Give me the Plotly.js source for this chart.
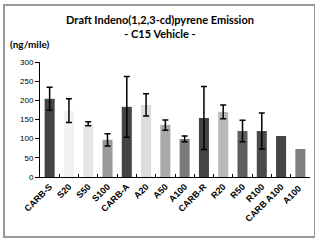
<!DOCTYPE html>
<html>
<head>
<meta charset="utf-8">
<script src="https://cdn.plot.ly/plotly-3.0.1.min.js"></script>
<style>
html,body{margin:0;padding:0;background:#fff;}
#wrap{position:relative;width:315px;height:240px;}
#chart{width:315px;height:240px;}
#frame{position:absolute;left:3px;top:4px;width:313px;height:234px;border:2px solid #999;box-sizing:border-box;pointer-events:none;}
</style>
</head>
<body>
<div id="wrap"><div id="chart"></div><div id="frame"></div></div>
<script>
const categories = ["CARB-S","S20","S50","S100","CARB-A","A20","A50","A100","CARB-R","R20","R50","R100","CARB A100","A100 "];
const values = [204, 173, 139, 97, 183, 188, 136, 99, 154, 170, 120, 120, 107, 73];
const errPlus = [30, 31, 5, 16, 79, 29, 13, 8, 82, 18, 28, 47, NaN, NaN];
const errMinus = [30, 31, 5, 16, 79, 29, 14, 7, 82, 18, 28, 47, NaN, NaN];
const barColors = ["#444444","#f2f2f2","#e6e6e6","#999999","#444444","#dcdcdc","#aaaaaa","#7a7a7a","#444444","#b8b8b8","#5f5f5f","#4a4a4a","#444444","#808080"];
const yTicks = [0, 50, 100, 150, 200, 250, 300];

const trace = {
  type: "bar",
  x: categories,
  y: values,
  marker: {color: barColors, line: {width: 0}},
  error_y: {type: "data", symmetric: false, array: errPlus, arrayminus: errMinus, color: "#000", thickness: 1.5, width: 3},
  hoverinfo: "none"
};

const layout = {
  width: 315, height: 240,
  margin: {l: 40, r: 5, t: 62, b: 63, pad: 0},
  paper_bgcolor: "#fff", plot_bgcolor: "#fff",
  showlegend: false,
  bargap: 0.48,
  title: {
    text: "Draft Indeno(1,2,3-cd)pyrene Emission<br>- C15 Vehicle -",
    font: {family: "Lato, 'Liberation Sans', sans-serif", size: 11, color: "#000", weight: "bold"},
    x: 0.508, xref: "container", xanchor: "center",
    y: 0.9, yref: "container", yanchor: "middle"
  },
  xaxis: {
    type: "category",
    tickson: "boundaries",
    ticks: "inside", ticklen: 3, tickwidth: 1, tickcolor: "#000",
    tickangle: -45,
    tickfont: {family: "'Liberation Sans', Arial, sans-serif", size: 9, color: "#000", weight: "bold"},
    showline: true, linecolor: "#000", linewidth: 1,
    showgrid: false, zeroline: false,
    fixedrange: true
  },
  yaxis: {
    range: [0, 300],
    tickvals: yTicks,
    ticktext: yTicks.map(String),
    ticks: "outside", ticklen: 4, tickwidth: 1, tickcolor: "#000",
    tickfont: {family: "'Liberation Sans', Arial, sans-serif", size: 8, color: "#000"},
    showline: true, linecolor: "#000", linewidth: 1,
    showgrid: false, zeroline: false,
    fixedrange: true
  },
  annotations: [{
    text: "<b>(ng/mile)</b>",
    xref: "paper", yref: "paper",
    x: -0.1185, y: 1.1565, xanchor: "left", yanchor: "middle",
    showarrow: false,
    font: {family: "Lato, 'Liberation Sans', sans-serif", size: 10, color: "#000"}
  }]
};

Plotly.newPlot("chart", [trace], layout, {displayModeBar: false, staticPlot: true});
</script>
</body>
</html>
